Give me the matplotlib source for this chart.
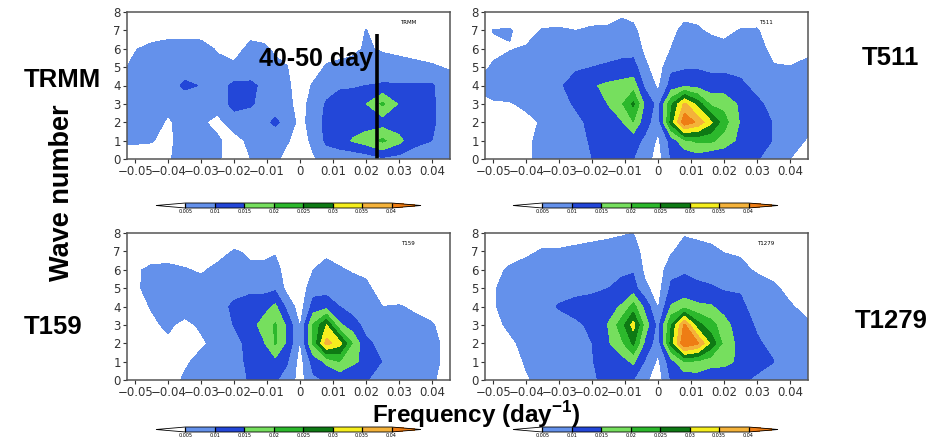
import matplotlib.pyplot as plt
import numpy as np
from matplotlib.colors import ListedColormap, BoundaryNorm

plt.rcParams['font.family'] = ['DejaVu Sans']
plt.rcParams['mathtext.fontset'] = 'custom'
plt.rcParams['mathtext.rm'] = 'Liberation Sans'
plt.rcParams['mathtext.bf'] = 'Liberation Sans:bold'

# grid: frequency (day^-1, x1000) and zonal wave number
freq = np.array([-55, -50, -45, -40, -35, -30, -25, -20, -15, -11, -7.5, -4,
                 0, 4, 8, 12, 16, 20, 25, 30, 35, 40, 46]) / 1000
wave = np.arange(9)

levels = [0.005, 0.01, 0.015, 0.02, 0.025, 0.03, 0.035, 0.04]
level_labels = ['0.005', '0.01', '0.015', '0.02', '0.025', '0.03', '0.035', '0.04']
xticks = [-0.05, -0.04, -0.03, -0.02, -0.01, 0, 0.01, 0.02, 0.03, 0.04]
yticks = [0, 1, 2, 3, 4, 5, 6, 7, 8]

# power (x1000), one row per frequency column, values for wave 0..8
trmm = [
    [3, 5.5, 6, 6, 5.5, 4, 2, 1, 1],
    [3, 5.5, 6.5, 7, 7, 6, 4.8, 2, 1],
    [3.5, 5.2, 6.5, 7, 8, 7, 6, 3, 1],
    [4.5, 4, 4.5, 6, 8, 7, 6.5, 3.5, 1],
    [7, 7, 6.5, 7.5, 10.8, 8, 7, 3, 1],
    [6.5, 6, 5.5, 7, 9.8, 7.5, 6.8, 3, 1],
    [5.5, 5.5, 4, 6.5, 8, 6.5, 4.5, 2, 1],
    [3, 3.5, 7, 12, 11, 6, 3, 1, 1],
    [5, 6, 7.5, 10.5, 11, 7, 6.5, 3, 1],
    [7, 7, 8.5, 8.5, 9, 7, 6, 2.5, 1],
    [6, 6.5, 11, 7.5, 7, 6.5, 4, 2, 1],
    [3.5, 5.5, 8, 6.5, 6, 5.2, 3, 1, 1],
    [2, 3, 3.5, 3, 2.5, 2, 1.5, 1, 1],
    [4.5, 6, 7, 7, 5.5, 3, 2, 1, 1],
    [7, 11, 11.5, 10.5, 8, 5.5, 3, 1.5, 1],
    [7, 12.5, 12, 11.5, 9.5, 6, 3.5, 2, 1],
    [6, 15.5, 12, 12.5, 9.5, 6.5, 4, 2, 1],
    [7, 17.5, 12.5, 14.8, 10, 7, 5.5, 5.2, 1.5],
    [9, 21, 12.5, 21, 10.5, 7, 4.5, 2, 1],
    [8, 16.5, 12, 14.5, 10.5, 6.5, 4, 1.5, 1],
    [8, 11, 11.5, 11.5, 10.5, 6, 3.5, 1.5, 1],
    [7.5, 10, 10.5, 10.5, 10.5, 5.5, 3, 1, 1],
    [7, 8.5, 8, 7.5, 7, 4.5, 2.5, 1, 1],
]

t511 = [
    [2, 2, 2.5, 4, 5.5, 3.5, 2.5, 2, 1.5],
    [2.5, 2.5, 3, 4.6, 6.5, 5.5, 4, 5.2, 2],
    [3, 3, 3.5, 4.8, 6.5, 6.5, 4.8, 5.3, 2],
    [4, 4, 4.3, 5.5, 7, 7, 5.4, 3.5, 2],
    [6.5, 6.5, 5.3, 7, 8.5, 8, 7, 5.3, 2.5],
    [7, 7, 7.5, 8.5, 9.5, 8.5, 7, 5.5, 2.5],
    [8, 8.5, 9, 10.5, 11.5, 9.5, 7, 5, 2.5],
    [10, 10.5, 11, 12, 14.5, 10, 8, 5.6, 3],
    [11, 12, 13, 15.2, 16, 10.5, 8.5, 5.8, 3],
    [11, 13, 14.5, 19.5, 17, 10.8, 9, 7, 4],
    [10, 11.8, 19.8, 26, 17.5, 12, 8, 6, 3.5],
    [7, 9, 12, 14, 9, 6, 4, 3, 2.5],
    [3, 4, 7, 8, 4, 2.5, 2, 2, 2],
    [10.3, 12, 27, 24, 12, 9, 5.1, 4, 2.5],
    [10.5, 19, 44, 36, 14, 9.3, 7.5, 6, 3.8],
    [12, 21, 39, 28, 13, 9.5, 7.5, 5.4, 4],
    [10, 21, 31, 19, 12, 9, 6.5, 4.5, 3],
    [10.5, 18, 22, 18.5, 12, 9, 6, 4, 2.5],
    [11, 13.5, 14.5, 14, 11, 8.5, 7, 5.2, 3],
    [10.3, 12, 12, 11, 8.5, 7, 6, 5.3, 3],
    [8, 9.8, 9.8, 8.5, 7, 5.2, 4.2, 3, 2],
    [5, 6.5, 7.5, 7, 6.5, 5.1, 3.5, 2.5, 2],
    [3, 4.5, 6, 6.5, 6.5, 6, 4.2, 2.5, 2],
]

t159 = [
    [2, 2, 2.5, 3, 3, 3, 2.5, 2, 1],
    [2, 2.5, 3, 3.5, 4, 4.5, 4.5, 2.5, 1.5],
    [3, 3.5, 4, 4.5, 5.2, 6, 5.8, 3, 2],
    [3.5, 4, 4.5, 5.5, 6.5, 7, 6, 3, 2],
    [5.5, 4.5, 4, 4.2, 6.5, 7, 5.3, 3, 2],
    [6, 6, 4.5, 5.5, 6.5, 6.5, 4.5, 3, 2],
    [6.5, 7, 6, 7, 8, 7, 6, 3.5, 2],
    [8, 8.5, 8.5, 10.2, 11, 8, 7, 5.3, 2],
    [10.5, 11, 11.5, 13, 12, 9, 5.5, 4.5, 2],
    [12, 12.5, 14.5, 17, 13, 8.5, 6, 4, 2],
    [10.5, 13.5, 20.5, 20.5, 16, 9, 7, 4.5, 2.5],
    [8, 10.5, 14, 14, 8.5, 3.5, 2.5, 2, 1.5],
    [3, 3, 4.5, 4.5, 2.5, 2, 1.5, 1, 1],
    [9, 12, 21, 20.5, 12, 8, 5, 2.5, 1.5],
    [10.5, 16, 37, 30, 13, 8, 6.5, 4, 2],
    [11, 20, 32, 16, 10, 7.5, 5.5, 3, 1.5],
    [10.5, 16, 19.5, 12, 8, 7, 4.5, 3, 1.5],
    [10.3, 13.5, 11, 8.5, 7.5, 6, 4, 2.5, 1.5],
    [8, 9.8, 8.5, 7, 5, 3, 2, 1.5, 1],
    [6.5, 7, 7, 6.5, 5.2, 3, 2, 1.5, 1],
    [6, 6.5, 6.5, 5.8, 4.5, 3, 2, 1.5, 1],
    [5.5, 6, 6, 5.3, 3.5, 2.5, 2, 1.5, 1],
    [3, 3.5, 3.5, 3, 2.5, 2, 1.5, 1, 1],
]

t1279 = [
    [1, 1.5, 2, 2.5, 3, 3, 3, 2, 1],
    [1.5, 2, 2.5, 3.5, 4.5, 4.5, 4, 3, 1.5],
    [2.5, 3, 4, 6, 7, 7, 5.5, 3.5, 2],
    [4.5, 5.5, 6.5, 7.5, 8, 8, 7, 4, 2],
    [6.5, 7, 7.5, 8, 9, 8.5, 7.5, 5.5, 2.5],
    [7, 7.5, 8, 9, 10.2, 9, 8, 5.5, 2.5],
    [7.5, 8, 8.5, 9.5, 11, 9, 8, 6, 3],
    [9.5, 9.8, 10, 10.5, 12, 9, 8.5, 6.5, 3.5],
    [11, 12, 14.5, 15.3, 13.5, 10, 9, 7, 4],
    [11.5, 13, 19, 23, 15.5, 11.5, 9, 7.5, 4.5],
    [10, 16, 26, 32, 22, 12, 9.5, 7.5, 5],
    [6, 9.5, 14, 18, 13.5, 6, 4, 3, 2],
    [2.5, 4, 7, 8, 4.5, 3, 2, 1.5, 1],
    [10.5, 13, 27, 25, 15.5, 11, 8.5, 4.5, 2.5],
    [11, 20, 45, 41, 18, 11.5, 9.5, 7, 4.5],
    [12, 19, 41, 27, 16, 11, 8.5, 6.5, 4],
    [11, 17, 29, 22, 15.5, 10.5, 8, 6, 3.5],
    [11, 16.5, 18.5, 17, 13, 9.5, 7.5, 4.8, 3],
    [10.5, 14, 13, 12, 11, 9.5, 6, 4.5, 2.5],
    [9.5, 11, 10.5, 9.5, 8, 7, 4.5, 3.5, 2],
    [8, 10.1, 9, 8, 7, 5.5, 4, 3, 2],
    [7, 7.5, 7, 6.5, 5.3, 4.2, 3, 2, 1.5],
    [6, 6.5, 6, 5.3, 4, 3, 2, 1.5, 1],
]

names = ['TRMM', 'T511', 'T159', 'T1279']
fields = [trmm, t511, t159, t1279]

# 40-50 day marker in the TRMM panel
mark_freq = 0.0235
mark_top = 6.8

colors = ['#6491eb', '#2347d8', '#76df5e', '#2cb82c', '#0e7a14', '#f5ee1e', '#f4b23a']
cmap = ListedColormap(colors)
cmap.set_under('white')
cmap.set_over('#ee7d14')

W, H = 941, 437


def box(l, t, r, b):
    return [l / W, 1 - b / H, (r - l) / W, (b - t) / H]


ax_boxes = [box(127, 12, 450, 159), box(485, 12, 808, 159),
            box(127, 233, 450, 380), box(485, 233, 808, 380)]
cb_boxes = [box(156, 203, 421, 208), box(513, 203, 778, 208),
            box(156, 427, 421, 432), box(513, 427, 778, 432)]

fig = plt.figure(figsize=(9.41, 4.37), dpi=100)

for name, field, axb, cbb in zip(names, fields, ax_boxes, cb_boxes):
    ax = fig.add_axes(axb)
    z = np.array(field).T / 1000
    norm = BoundaryNorm(levels, cmap.N)
    cf = ax.contourf(freq, wave, z, levels=levels, cmap=cmap, norm=norm, extend='both')
    ax.set_xlim(-0.0525, 0.0455)
    ax.set_ylim(0, 8)
    ax.set_xticks(xticks)
    ax.set_xticklabels([f'{v:g}'.replace('-', '\u2212') for v in xticks])
    ax.set_yticks(yticks)
    ax.tick_params(labelsize=8.5, length=3, width=0.8, colors='#333333', pad=1.5)
    ax.set_axisbelow(True)
    ax.grid(axis='x', color='#d8d8d8', linestyle=':', linewidth=0.7)
    for s in ax.spines.values():
        s.set_color('#555555')
        s.set_linewidth(1.1)
    ax.text(0.87, 0.93, name, transform=ax.transAxes, fontsize=4,
            ha='center', va='center')
    if name == 'TRMM':
        ax.plot([mark_freq, mark_freq], [0, mark_top], color='black', lw=2.6,
                solid_capstyle='butt', clip_on=False)
        ax.text(mark_freq - 0.0015, 5.45, '40-50 day', fontsize=18, fontweight='bold',
                family='Liberation Sans', ha='right', va='center')

    cax = fig.add_axes(cbb)
    cb = fig.colorbar(cf, cax=cax, orientation='horizontal', extend='both',
                      extendfrac=0.143, drawedges=True)
    cb.set_ticks(levels, labels=level_labels)
    cb.ax.tick_params(labelsize=3.5, length=0, pad=0.8)
    cb.outline.set_linewidth(0.6)
    cb.dividers.set_linewidth(0.9)

big = dict(fontweight='bold', family='Liberation Sans', ha='center', va='center')
fig.text(62 / W, 1 - 80 / H, 'TRMM', fontsize=18.5, **big)
fig.text(890 / W, 1 - 58 / H, 'T511', fontsize=18.5, **big)
fig.text(53 / W, 1 - 327 / H, 'T159', fontsize=18.5, **big)
fig.text(891 / W, 1 - 321 / H, 'T1279', fontsize=18.5, **big)
fig.text(62 / W, 1 - 193 / H, 'Wave number', rotation=90, fontsize=19.5, **big)
fig.text(476 / W, 1 - 415 / H, r'Frequency (day$^{\mathbf{-1}}$)', fontsize=17.5, **big)

fig.savefig('out.png', dpi=100)
